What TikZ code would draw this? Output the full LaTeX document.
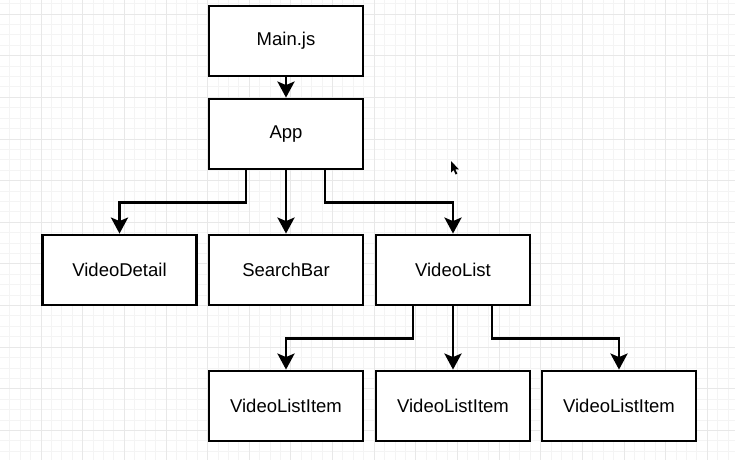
\documentclass[tikz,border=0pt]{standalone}
\usepackage{fontspec}
\setmainfont{Liberation Sans}
\usetikzlibrary{arrows.meta}
\definecolor{gridminor}{HTML}{F4F4F4}
\definecolor{gridmajor}{HTML}{E8E8E8}
\tikzset{
  box/.style={draw=black, line width=2.8pt, fill=white, minimum width=154pt, minimum height=70pt, inner sep=0pt, font=\fontsize{18.5}{20}\selectfont},
  conn/.style={draw=black, line width=2.9pt, -{Stealth[length=16pt, width=17pt, inset=3.5pt]}}
}
\begin{document}
\begin{tikzpicture}[x=1pt,y=-1pt]
\useasboundingbox (0,0) rectangle (735,460);
\fill[white] (0,0) rectangle (735,460);
% grid
\foreach \k in {-4,...,70} {
  \pgfmathsetmacro{\xx}{41+10.41*\k}
  \pgfmathsetmacro{\yy}{14+10.41*\k}
  \draw[gridminor, line width=0.8pt] (\xx,0) -- (\xx,460);
  \draw[gridminor, line width=0.8pt] (0,\yy) -- (735,\yy);
}
\foreach \k in {-1,...,17} {
  \pgfmathsetmacro{\xx}{41+41.65*\k}
  \pgfmathsetmacro{\yy}{14+41.65*\k}
  \draw[gridmajor, line width=0.9pt] (\xx,0) -- (\xx,460);
  \draw[gridmajor, line width=0.9pt] (0,\yy) -- (735,\yy);
}
% nodes
\node[box] (main) at (286,41) {Main.js};
\node[box] (app) at (286,134) {App};
\node[box] (vd) at (119.5,270) {VideoDetail};
\node[box] (sb) at (286,270) {SearchBar};
\node[box] (vl) at (453,270) {VideoList};
\node[box] (li1) at (286,406) {VideoListItem};
\node[box] (li2) at (453,406) {VideoListItem};
\node[box] (li3) at (619,406) {VideoListItem};
% connectors
\draw[conn] (main.south) -- (app.north);
\draw[conn] ([xshift=-40pt]app.south) -- ++(0,32) -| (vd.north);
\draw[conn] (app.south) -- (sb.north);
\draw[conn] ([xshift=39pt]app.south) -- ++(0,32) -| (vl.north);
\draw[conn] ([xshift=-40pt]vl.south) -- ++(0,32) -| (li1.north);
\draw[conn] (vl.south) -- (li2.north);
\draw[conn] ([xshift=39pt]vl.south) -- ++(0,32) -| (li3.north);
% mouse cursor
\fill[black] (451,161) -- (451,172.5) -- (453.6,170) -- (455.6,174.5) -- (457.3,173.7) -- (455.3,169.3) -- (458.8,169.3) -- cycle;
\end{tikzpicture}
\end{document}
